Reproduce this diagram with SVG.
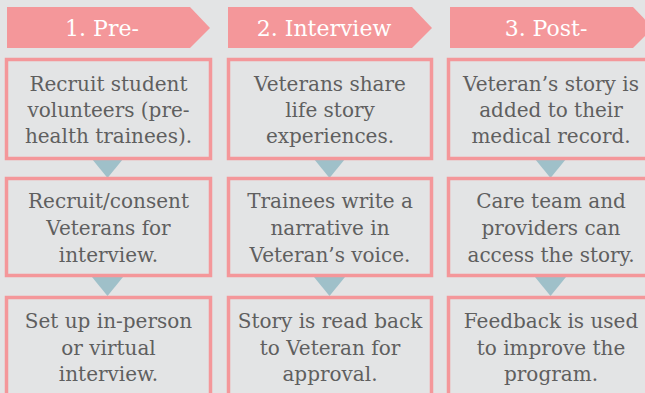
<svg xmlns="http://www.w3.org/2000/svg" width="645" height="393" viewBox="0 0 645 393">
<style>
.hdr{fill:#f4979a}
.box{fill:#e3e4e5;stroke:#f4979a;stroke-width:3.5}
.tri{fill:#9fc0c9}
.ht{font-family:"DejaVu Serif",serif;font-size:22px;fill:#ffffff;text-anchor:middle}
.bt{font-family:"DejaVu Serif",serif;font-size:20px;fill:#5f5f5f;text-anchor:middle}
</style>
<rect width="645" height="393" fill="#e3e4e5"/>
<g id="header1"><polygon class="hdr" points="7,7 190,7 210,28 190,48 7,48"/><text class="ht" x="102" y="36">1. Pre-</text></g>
<g id="header2"><polygon class="hdr" points="228,7 412,7 432,28 412,48 228,48"/><text class="ht" x="324" y="36">2. Interview</text></g>
<g id="header3"><polygon class="hdr" points="450,7 633,7 653,28 633,48 450,48"/><text class="ht" x="546" y="36">3. Post-</text></g>
<g id="connectors">
<polygon class="tri" points="92,159 123,159 107.5,178"/>
<polygon class="tri" points="92,277 123,277 107.5,296"/>
<polygon class="tri" points="314,159 345,159 329.5,178"/>
<polygon class="tri" points="314,277 345,277 329.5,296"/>
<polygon class="tri" points="535,159 566,159 550.5,178"/>
<polygon class="tri" points="535,277 566,277 550.5,296"/>
</g>
<g id="n11"><rect class="box" x="6.5" y="59.5" width="204" height="99"/><text class="bt" y="91"><tspan x="108.5">Recruit student</tspan><tspan x="108.5" dy="26">volunteers (pre-</tspan><tspan x="108.5" dy="26">health trainees).</tspan></text></g>
<g id="n12"><rect class="box" x="6.5" y="178.5" width="204" height="97"/><text class="bt" y="208"><tspan x="108.5">Recruit/consent</tspan><tspan x="108.5" dy="27">Veterans for</tspan><tspan x="108.5" dy="27">interview.</tspan></text></g>
<g id="n13"><rect class="box" x="6.5" y="297.5" width="204" height="100"/><text class="bt" y="328"><tspan x="108.5">Set up in-person</tspan><tspan x="108.5" dy="26.5">or virtual</tspan><tspan x="108.5" dy="26.5">interview.</tspan></text></g>
<g id="n21"><rect class="box" x="228.5" y="59.5" width="203" height="99"/><text class="bt" y="91"><tspan x="330">Veterans share</tspan><tspan x="330" dy="26">life story</tspan><tspan x="330" dy="26">experiences.</tspan></text></g>
<g id="n22"><rect class="box" x="228.5" y="178.5" width="203" height="97"/><text class="bt" y="208"><tspan x="330">Trainees write a</tspan><tspan x="330" dy="27">narrative in</tspan><tspan x="330" dy="27">Veteran’s voice.</tspan></text></g>
<g id="n23"><rect class="box" x="228.5" y="297.5" width="203" height="100"/><text class="bt" y="328"><tspan x="330">Story is read back</tspan><tspan x="330" dy="26.5">to Veteran for</tspan><tspan x="330" dy="26.5">approval.</tspan></text></g>
<g id="n31"><rect class="box" x="448.5" y="59.5" width="204" height="99"/><text class="bt" y="91"><tspan x="551">Veteran’s story is</tspan><tspan x="551" dy="26">added to their</tspan><tspan x="551" dy="26">medical record.</tspan></text></g>
<g id="n32"><rect class="box" x="448.5" y="178.5" width="204" height="97"/><text class="bt" y="208"><tspan x="551">Care team and</tspan><tspan x="551" dy="27">providers can</tspan><tspan x="551" dy="27">access the story.</tspan></text></g>
<g id="n33"><rect class="box" x="448.5" y="297.5" width="204" height="100"/><text class="bt" y="328"><tspan x="551">Feedback is used</tspan><tspan x="551" dy="26.5">to improve the</tspan><tspan x="551" dy="26.5">program.</tspan></text></g>
</svg>
